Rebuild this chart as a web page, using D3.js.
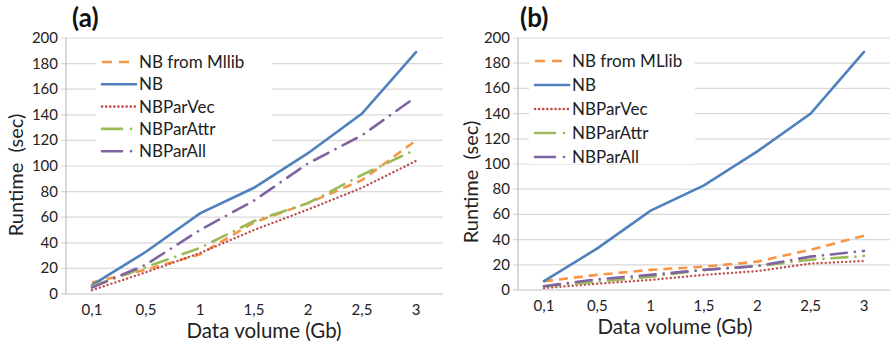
<!DOCTYPE html>
<html>
<head>
<meta charset="utf-8">
<script src="https://cdn.jsdelivr.net/npm/d3@7"></script>
<style>
  body { margin: 0; background: #fff; }
  svg { font-family: Lato, "Open Sans", sans-serif; }
</style>
</head>
<body>
<svg id="chart" width="890" height="346"></svg>
<script>
const categories = ["0,1", "0,5", "1", "1,5", "2", "2,5", "3"];
const yTicks = [0, 20, 40, 60, 80, 100, 120, 140, 160, 180, 200];

// panel (a)
const mllibA   = [9, 19, 31, 56, 71, 89, 120];
const nbA      = [7, 33, 63, 83, 110, 141, 189];
const parVecA  = [3, 17, 32, 50, 66, 83, 104];
const parAttrA = [6, 21, 36, 57, 71, 93, 113];
const parAllA  = [5, 23, 50, 73, 102, 124, 154];

// panel (b)
const mllibB   = [7, 12, 16, 18.5, 22.5, 32, 43];
const nbB      = [7, 33, 63, 83, 110, 140, 189];
const parVecB  = [1.5, 5, 8, 12, 15, 21, 23];
const parAttrB = [3, 6.5, 10.5, 16, 19, 24, 27];
const parAllB  = [3, 8.5, 12, 16, 19, 26.5, 31];

const styles = [
    { color: "#F79646", dash: "9,6", cap: "butt" },
    { color: "#4F81BD", dash: null, cap: "round" },
    { color: "#C0504D", dash: "0.1,4", cap: "round" },
    { color: "#9BBB59", dash: "16,8,0.1,8", cap: "round" },
    { color: "#8064A2", dash: "16,8,0.1,8", cap: "round" }
];

const svg = d3.select("#chart");

function drawPanel(p) {
    let g = svg.append("g");
    let x = d3.scalePoint().domain(categories).range([p.x0, p.x1]);
    let y = d3.scaleLinear().domain([0, 200]).range([p.yBottom, p.yTop]);

    // gridlines
    g.selectAll("line.grid").data(yTicks.slice(1)).enter().append("line")
        .attr("x1", p.axisX - 5).attr("x2", p.gridEnd)
        .attr("y1", d => y(d)).attr("y2", d => y(d))
        .attr("stroke", "#d9d9d9").attr("stroke-width", 1.2);

    // axis lines
    g.append("line").attr("x1", p.axisX - 5).attr("x2", p.gridEnd)
        .attr("y1", y(0)).attr("y2", y(0))
        .attr("stroke", "#bfbfbf").attr("stroke-width", 1.2);
    g.append("line").attr("x1", p.axisX).attr("x2", p.axisX)
        .attr("y1", y(0)).attr("y2", y(200))
        .attr("stroke", "#bfbfbf").attr("stroke-width", 1.2);

    // y tick labels
    g.selectAll("text.yt").data(yTicks).enter().append("text")
        .attr("x", p.axisX - 8).attr("y", d => y(d) + 5)
        .attr("text-anchor", "end").attr("font-size", 15).attr("fill", "#222")
        .text(d => d);

    // x tick labels
    g.selectAll("text.xt").data(categories).enter().append("text")
        .attr("x", d => x(d)).attr("y", y(0) + 21)
        .attr("text-anchor", "middle").attr("font-size", 15).attr("fill", "#222")
        .text(d => d);

    // titles
    g.append("text").attr("x", p.xTitleX).attr("y", y(0) + 44)
        .attr("text-anchor", "middle").attr("font-size", 20.5).attr("fill", "#222")
        .text("Data volume (Gb)");
    g.append("text")
        .attr("transform", `translate(${p.yTitleX},${p.yTitleY}) rotate(-90)`)
        .attr("text-anchor", "middle").attr("font-size", 20).attr("fill", "#222")
        .attr("xml:space", "preserve")
        .text("Runtime  (sec)");
    g.append("text").attr("x", p.labelX).attr("y", 27)
        .attr("font-size", 26).attr("font-weight", "bold").attr("fill", "#111")
        .text(p.label);

    // lines
    let line = d3.line().x((d, i) => x(categories[i])).y(d => y(d));
    p.series.forEach((s, k) => {
        let st = styles[k];
        g.append("path").datum(s)
            .attr("d", line)
            .attr("fill", "none")
            .attr("stroke", st.color)
            .attr("stroke-width", k === 2 ? 2.4 : 2.6)
            .attr("stroke-linecap", st.cap)
            .attr("stroke-dasharray", st.dash);
    });

    // legend
    let lg = g.append("g");
    lg.append("rect").attr("x", p.legX - 6).attr("y", p.legY - 14)
        .attr("width", p.legW).attr("height", p.legH).attr("fill", "#fff");
    p.names.forEach((name, k) => {
        let st = styles[k];
        let ly = p.legY + k * p.legStep;
        lg.append("line")
            .attr("x1", p.legX).attr("x2", p.legX + 34)
            .attr("y1", ly).attr("y2", ly)
            .attr("stroke", st.color).attr("stroke-width", 2.6)
            .attr("stroke-linecap", st.cap)
            .attr("stroke-dasharray", k === 0 ? "10,7" : k === 3 || k === 4 ? "20,9,0.1,8" : st.dash);
        lg.append("text")
            .attr("x", p.legX + 37).attr("y", ly + 6)
            .attr("font-size", 17).attr("fill", "#222")
            .text(name);
    });
}

drawPanel({
    label: "(a)", labelX: 72,
    axisX: 66, x0: 92, x1: 416, gridEnd: 443, yTop: 38, yBottom: 294,
    xTitleX: 264, yTitleX: 23, yTitleY: 175,
    series: [mllibA, nbA, parVecA, parAttrA, parAllA],
    names: ["NB from Mllib", "NB", "NBParVec", "NBParAttr", "NBParAll"],
    legX: 102, legY: 62, legStep: 22.3, legW: 176, legH: 112
});

drawPanel({
    label: "(b)", labelX: 520,
    axisX: 518, x0: 544, x1: 864, gridEnd: 890, yTop: 38, yBottom: 290,
    xTitleX: 675, yTitleX: 478, yTitleY: 182,
    series: [mllibB, nbB, parVecB, parAttrB, parAllB],
    names: ["NB from MLlib", "NB", "NBParVec", "NBParAttr", "NBParAll"],
    legX: 535, legY: 61, legStep: 24, legW: 166, legH: 117
});
</script>
</body>
</html>
